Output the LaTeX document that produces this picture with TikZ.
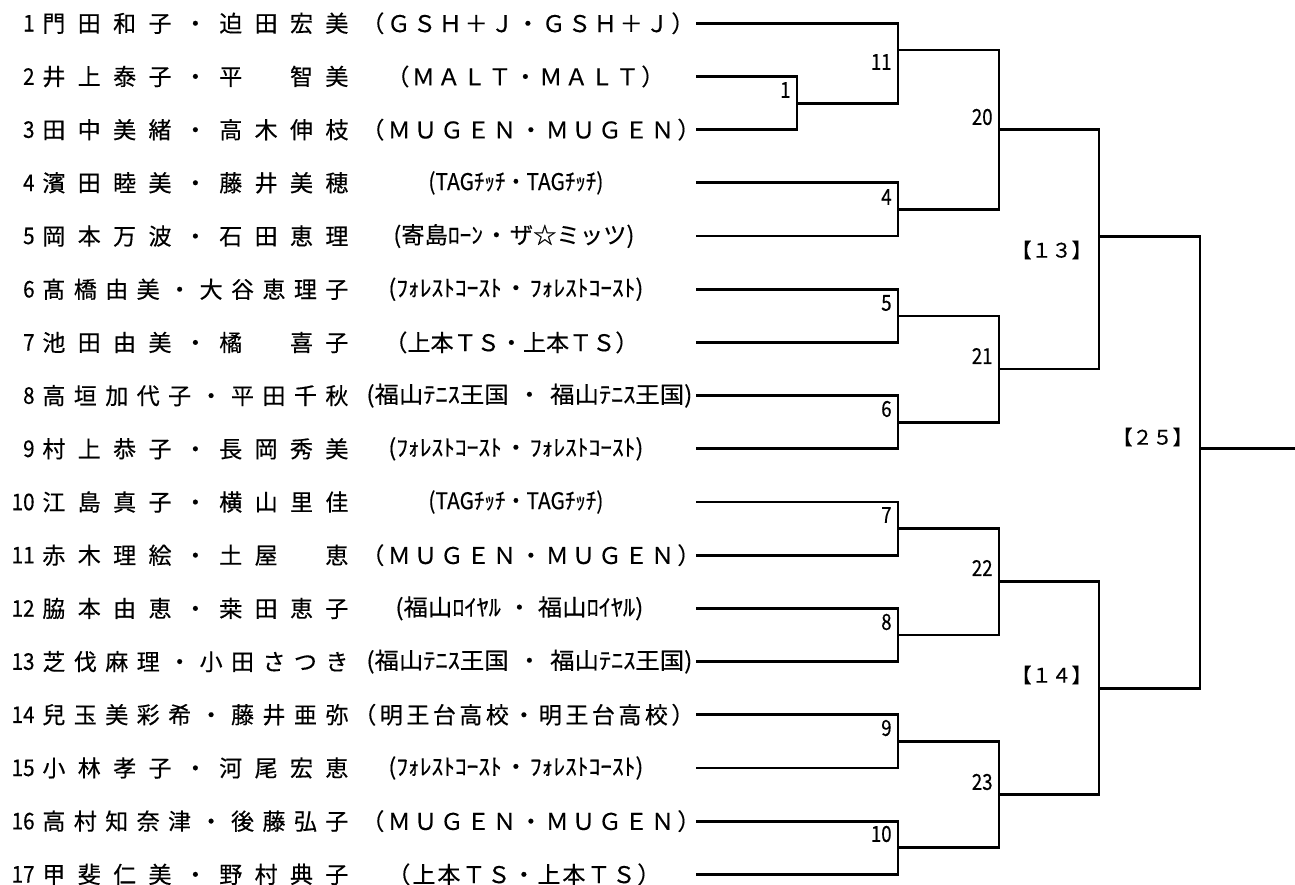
\documentclass[tikz,border=0pt]{standalone}
\usepackage{fontspec}
\usepackage{graphicx}
\setmainfont{Noto Sans CJK JP}[FakeBold=0.4]

% spread characters evenly over a given width
\newcommand\zsp{\hbox to 1em{}}
\newcommand\spreadtext[2]{\hbox to #1{\spreadfirst#2\relax}}
\def\spreadfirst#1{#1\spreadloop}
\def\spreadloop#1{\ifx#1\relax\else\hfill#1\expandafter\spreadloop\fi}

% club text: squeezed if too wide, else half widened and half split round the dot
\newsavebox\clubbox
\newdimen\clubnat
\newcommand\club[3]{\sbox\clubbox{#2・#3}\clubnat=\wd\clubbox
  \ifdim\clubnat>#1\relax\resizebox{#1}{\height}{\usebox\clubbox}%
  \else\pgfmathsetmacro\clubfac{(#1+\the\clubnat)/(2*\the\clubnat)}%
  \hbox to #1{\scalebox{\clubfac}[1]{#2}\hfil・\hfil\scalebox{\clubfac}[1]{#3}}\fi}

\tikzset{
  bracket/.style={line width=1.4pt},
  entrynum/.style={anchor=east, inner sep=0pt, font=\fontsize{11.5}{12}\selectfont},
  entryname/.style={anchor=west, inner sep=0pt, font=\fontsize{11.5}{12}\selectfont},
  entryclub/.style={anchor=west, inner sep=0pt, font=\fontsize{11.5}{12}\selectfont},
  matchno/.style={anchor=east, inner sep=0pt, font=\fontsize{11}{12}\selectfont},
  roundno/.style={anchor=east, inner sep=0pt, font=\fontsize{10}{11}\selectfont}
}

\begin{document}
\begin{tikzpicture}[x=0.5pt,y=-0.5pt]
    \useasboundingbox (0,0) rectangle (1295,884);

    % Start points of the entry lines
    \foreach \i in {1,...,17}
        \coordinate (s\i) at (696,{23.3+53.19*(\i-1)});

    % Entry numbers
    \foreach \i in {1,...,17}
        \node[entrynum] (n\i) at (35,0 |- s\i) {\scalebox{0.9}[1]{\i}};

    % Players
    \node[entryname] (p1) at (42,0 |- s1) {\spreadtext{153pt}{門田和子・迫田宏美}};
    \node[entryname] (p2) at (42,0 |- s2) {\spreadtext{153pt}{井上泰子・平\zsp 智美}};
    \node[entryname] (p3) at (42,0 |- s3) {\spreadtext{153pt}{田中美緒・高木伸枝}};
    \node[entryname] (p4) at (42,0 |- s4) {\spreadtext{153pt}{濱田睦美・藤井美穂}};
    \node[entryname] (p5) at (42,0 |- s5) {\spreadtext{153pt}{岡本万波・石田恵理}};
    \node[entryname] (p6) at (42,0 |- s6) {\spreadtext{153pt}{髙橋由美・大谷恵理子}};
    \node[entryname] (p7) at (42,0 |- s7) {\spreadtext{153pt}{池田由美・橘\zsp 喜子}};
    \node[entryname] (p8) at (42,0 |- s8) {\spreadtext{153pt}{高垣加代子・平田千秋}};
    \node[entryname] (p9) at (42,0 |- s9) {\spreadtext{153pt}{村上恭子・長岡秀美}};
    \node[entryname] (p10) at (42,0 |- s10) {\spreadtext{153pt}{江島真子・横山里佳}};
    \node[entryname] (p11) at (42,0 |- s11) {\spreadtext{153pt}{赤木理絵・土屋\zsp 恵}};
    \node[entryname] (p12) at (42,0 |- s12) {\spreadtext{153pt}{脇本由恵・桒田恵子}};
    \node[entryname] (p13) at (42,0 |- s13) {\spreadtext{153pt}{芝伐麻理・小田さつき}};
    \node[entryname] (p14) at (42,0 |- s14) {\spreadtext{153pt}{兒玉美彩希・藤井亜弥}};
    \node[entryname] (p15) at (42,0 |- s15) {\spreadtext{153pt}{小林孝子・河尾宏恵}};
    \node[entryname] (p16) at (42,0 |- s16) {\spreadtext{153pt}{高村知奈津・後藤弘子}};
    \node[entryname] (p17) at (42,0 |- s17) {\spreadtext{153pt}{甲斐仁美・野村典子}};

    % Clubs
    \node[entryclub] (c1) at (361,0 |- s1) {\spreadtext{166.5pt}{（ＧＳＨ＋Ｊ・ＧＳＨ＋Ｊ）}};
    \node[entryclub] (c2) at (386,0 |- s2) {\spreadtext{139pt}{（ＭＡＬＴ・ＭＡＬＴ）}};
    \node[entryclub] (c3) at (361,0 |- s3) {\spreadtext{169.5pt}{（ＭＵＧＥＮ・ＭＵＧＥＮ）}};
    \node[entryclub] (c4) at (428,0 |- s4) {\club{87.5pt}{(TAGﾁｯﾁ}{TAGﾁｯﾁ)}};
    \node[entryclub] (c5) at (393,0 |- s5) {\club{120.5pt}{(寄島ﾛｰﾝ}{ザ☆ミッツ)}};
    \node[entryclub] (c6) at (388,0 |- s6) {\club{127.5pt}{(ﾌｫﾚｽﾄｺｰｽﾄ}{ﾌｫﾚｽﾄｺｰｽﾄ)}};
    \node[entryclub] (c7) at (384,0 |- s7) {\spreadtext{127pt}{（上本ＴＳ・上本ＴＳ）}};
    \node[entryclub] (c8) at (366,0 |- s8) {\club{163pt}{(福山ﾃﾆｽ王国}{福山ﾃﾆｽ王国)}};
    \node[entryclub] (c9) at (388,0 |- s9) {\club{127.5pt}{(ﾌｫﾚｽﾄｺｰｽﾄ}{ﾌｫﾚｽﾄｺｰｽﾄ)}};
    \node[entryclub] (c10) at (428,0 |- s10) {\club{87.5pt}{(TAGﾁｯﾁ}{TAGﾁｯﾁ)}};
    \node[entryclub] (c11) at (361,0 |- s11) {\spreadtext{169.5pt}{（ＭＵＧＥＮ・ＭＵＧＥＮ）}};
    \node[entryclub] (c12) at (395,0 |- s12) {\club{124pt}{(福山ﾛｲﾔﾙ}{福山ﾛｲﾔﾙ)}};
    \node[entryclub] (c13) at (366,0 |- s13) {\club{163pt}{(福山ﾃﾆｽ王国}{福山ﾃﾆｽ王国)}};
    \node[entryclub] (c14) at (353,0 |- s14) {\spreadtext{170.5pt}{（明王台高校・明王台高校）}};
    \node[entryclub] (c15) at (388,0 |- s15) {\club{127.5pt}{(ﾌｫﾚｽﾄｺｰｽﾄ}{ﾌｫﾚｽﾄｺｰｽﾄ)}};
    \node[entryclub] (c16) at (361,0 |- s16) {\spreadtext{169.5pt}{（ＭＵＧＥＮ・ＭＵＧＥＮ）}};
    \node[entryclub] (c17) at (387,0 |- s17) {\spreadtext{136.5pt}{（上本ＴＳ・上本ＴＳ）}};

    % Match points
    \coordinate (m1) at (797,103.1);
    \coordinate (m11) at (898,49.9);
    \coordinate (m4) at (898,209.5);
    \coordinate (m5) at (898,315.9);
    \coordinate (m6) at (898,422.2);
    \coordinate (m7) at (898,528.6);
    \coordinate (m8) at (898,635.0);
    \coordinate (m9) at (898,741.4);
    \coordinate (m10) at (898,847.8);
    \coordinate (m20) at (999,129.7);
    \coordinate (m21) at (999,369.0);
    \coordinate (m22) at (999,581.8);
    \coordinate (m23) at (999,794.6);
    \coordinate (m13) at (1099,236.1);
    \coordinate (m14) at (1099,688.2);
    \coordinate (m25) at (1200,448.8);
    \coordinate (fin) at (1295,448.8);

    % Draw the brackets
    \foreach \a/\m/\b in {s2/m1/s3, s1/m11/m1, s4/m4/s5, s6/m5/s7, s8/m6/s9,
                          s10/m7/s11, s12/m8/s13, s14/m9/s15, s16/m10/s17,
                          m11/m20/m4, m5/m21/m6, m7/m22/m8, m9/m23/m10,
                          m20/m13/m21, m22/m14/m23, m13/m25/m14}
        \draw[bracket] (\a) -| (\m) |- (\b);
    \draw[bracket] (m25) -- (fin);

    % Match numbers
    \node[matchno] (l1) at (791,90) {\scalebox{0.85}[1]{1}};
    \node[matchno] (l11) at (892,62) {\scalebox{0.85}[1]{11}};
    \node[matchno] (l4) at (892,197) {\scalebox{0.85}[1]{4}};
    \node[matchno] (l5) at (892,303) {\scalebox{0.85}[1]{5}};
    \node[matchno] (l6) at (892,409) {\scalebox{0.85}[1]{6}};
    \node[matchno] (l7) at (892,515) {\scalebox{0.85}[1]{7}};
    \node[matchno] (l8) at (892,622) {\scalebox{0.85}[1]{8}};
    \node[matchno] (l9) at (892,728) {\scalebox{0.85}[1]{9}};
    \node[matchno] (l10) at (892,834) {\scalebox{0.85}[1]{10}};
    \node[matchno] (l20) at (993,117) {\scalebox{0.85}[1]{20}};
    \node[matchno] (l21) at (993,356) {\scalebox{0.85}[1]{21}};
    \node[matchno] (l22) at (993,568) {\scalebox{0.85}[1]{22}};
    \node[matchno] (l23) at (993,782) {\scalebox{0.85}[1]{23}};
    \node[roundno] (r13) at (1092,250) {【１３】};
    \node[roundno] (r14) at (1092,675) {【１４】};
    \node[roundno] (r25) at (1193,437) {【２５】};
\end{tikzpicture}
\end{document}
